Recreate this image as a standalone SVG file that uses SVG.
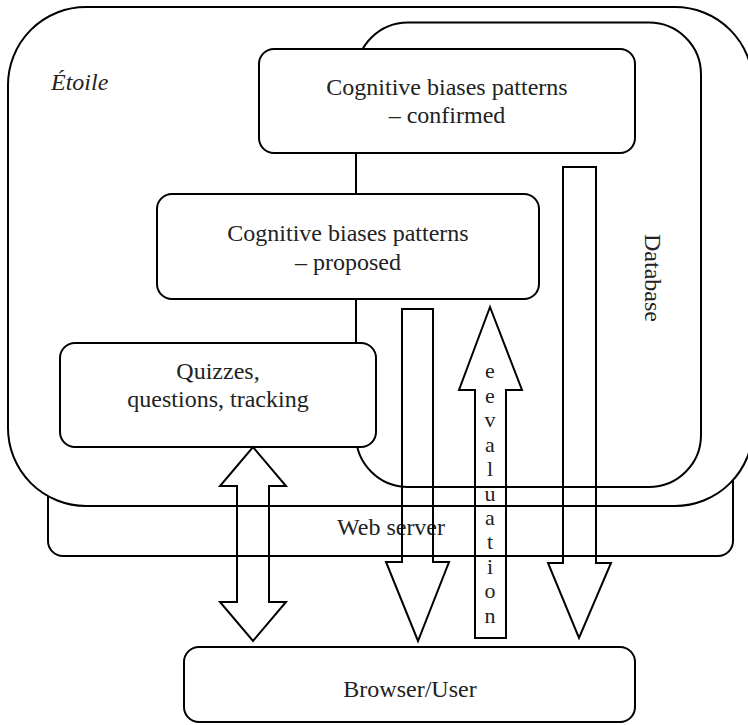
<svg xmlns="http://www.w3.org/2000/svg" width="748" height="725" viewBox="0 0 748 725">
<style>
.box{fill:#fff;stroke:#000;stroke-width:2}
.arr{fill:none;stroke:#000;stroke-width:2;stroke-linejoin:miter}
.ln{stroke:#000;stroke-width:2;fill:none}
.t{font-family:'Liberation Serif','Times New Roman','DejaVu Serif',serif;font-size:24px;fill:#222}
.c{text-anchor:middle}
.ev{font-size:22px;text-anchor:middle}
</style>
<rect width="748" height="725" fill="#fff"/>
<g id="webserver">
<rect class="box" x="48" y="300" width="685" height="256" rx="15"/>
</g>
<g id="etoile">
<rect class="box" x="8" y="7" width="745" height="499" rx="78"/>
<text class="t" x="51" y="90" font-style="italic">Étoile</text>
</g>
<g id="database">
<rect class="box" x="356" y="22.5" width="345" height="464.5" rx="52"/>
<text class="t c" transform="translate(645,278) rotate(90)">Database</text>
</g>
<g id="confirmed">
<rect class="box" x="259" y="49" width="376" height="104" rx="15"/>
<text class="t c" x="447" y="95">Cognitive biases patterns</text>
<text class="t c" x="447" y="123">– confirmed</text>
</g>
<g id="proposed">
<rect class="box" x="157" y="194" width="382" height="105" rx="15"/>
<text class="t c" x="348" y="241">Cognitive biases patterns</text>
<text class="t c" x="348" y="270">– proposed</text>
</g>
<g id="quizzes">
<rect class="box" x="60" y="343" width="316" height="104" rx="15"/>
<text class="t c" x="218" y="379">Quizzes,</text>
<text class="t c" x="218" y="407">questions, tracking</text>
</g>
<g id="webserver-label">
<text class="t" x="337" y="535">Web server</text>
</g>
<g id="browser">
<rect class="box" x="184" y="647" width="451" height="75" rx="15"/>
<text class="t c" x="410" y="697">Browser/User</text>
</g>
<g id="connectors">
<line class="ln" x1="356" y1="153" x2="356" y2="194"/>
<line class="ln" x1="356" y1="299" x2="356" y2="343"/>
<path class="arr" d="M253,447 L286,486 L269,486 L269,602 L286,602 L253,641 L220,602 L237,602 L237,486 L220,486 Z"/>
<path class="arr" d="M402,309 L433,309 L433,562 L449,562 L418,641 L386,562 L402,562 Z"/>
<path class="arr" d="M490,307 L522,390 L506,390 L506,638 L475,638 L475,390 L459,390 Z"/>
<path class="arr" d="M563,167 L596,167 L596,563 L611,563 L579,638 L548,563 L563,563 Z"/>
</g>
<g id="evaluation-label">
<text class="t ev" x="490" y="378">e</text>
<text class="t ev" x="490" y="403">e</text>
<text class="t ev" x="490" y="427">v</text>
<text class="t ev" x="490" y="452">a</text>
<text class="t ev" x="490" y="476">l</text>
<text class="t ev" x="490" y="501">u</text>
<text class="t ev" x="490" y="525">a</text>
<text class="t ev" x="490" y="549">t</text>
<text class="t ev" x="490" y="574">i</text>
<text class="t ev" x="490" y="598">o</text>
<text class="t ev" x="490" y="623">n</text>
</g>
</svg>
